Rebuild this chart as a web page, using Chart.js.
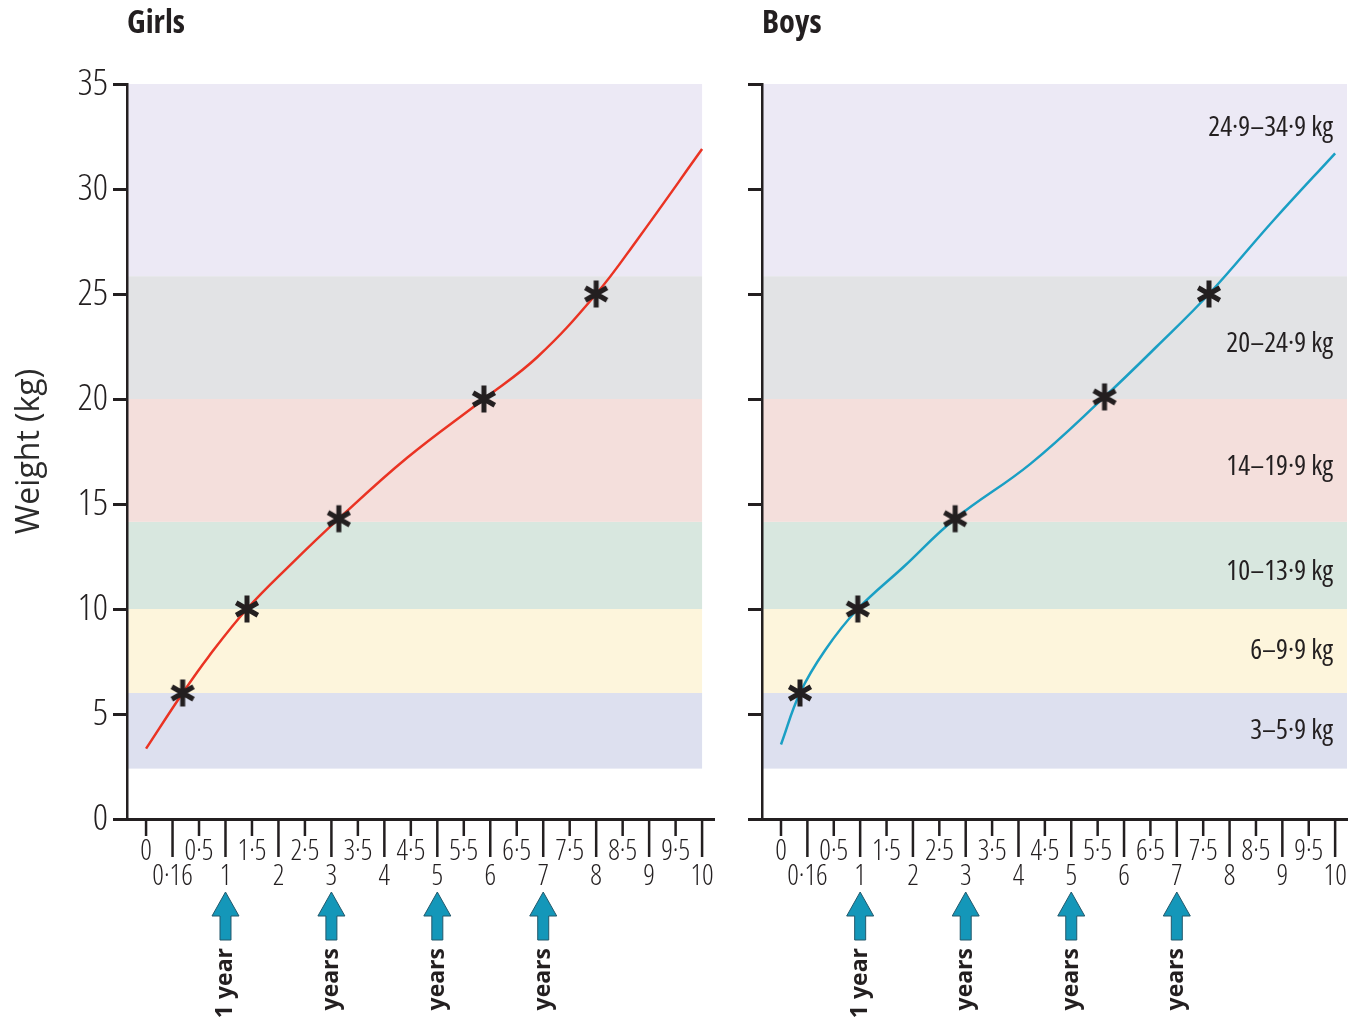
<!DOCTYPE html>
<html>
<head>
<meta charset="utf-8">
<title>Weight for age, girls and boys</title>
<script src="https://cdn.jsdelivr.net/npm/chart.js@4.4.1/dist/chart.umd.min.js"></script>
<style>
  html, body { margin: 0; padding: 0; background: #ffffff; }
  #wrap { position: relative; width: 1350px; height: 1017px; overflow: hidden; }
  canvas { position: absolute; top: 0; }
  #girls { left: 0; z-index: 1; }
  #boys { left: 725px; z-index: 2; }
</style>
</head>
<body>
<div id="wrap">
  <canvas id="girls"></canvas>
  <canvas id="boys"></canvas>
</div>
<script>
// Age axis: ticks are spaced evenly, not in proportion to age
const tickAges = [0, 0.16, 0.5, 1, 1.5, 2, 2.5, 3, 3.5, 4, 4.5, 5, 5.5, 6, 6.5, 7, 7.5, 8, 8.5, 9, 9.5, 10];
const tickLabels = ['0', '0·16', '0·5', '1', '1·5', '2', '2·5', '3', '3·5', '4', '4·5', '5', '5·5', '6', '6·5', '7', '7·5', '8', '8·5', '9', '9·5', '10'];

// Median weight curves (age in years, weight in kg)
const girlsAge    = [0, 0.29, 0.68, 1.405, 2.225, 3.14, 4.43, 5.88, 6.89, 8.0, 8.78, 10];
const girlsWeight = [3.35, 6.0, 7.73, 10.0, 12.1, 14.3, 17.2, 20.0, 22.0, 25.0, 27.6, 31.9];
const boysAge     = [0, 0.115, 0.39, 0.955, 1.82, 2.8, 4.22, 5.63, 6.62, 7.61, 8.83, 10];
const boysWeight  = [3.55, 6.0, 8.05, 10.0, 12.0, 14.3, 16.9, 20.1, 22.5, 25.0, 28.5, 31.7];

// Starred points on each curve
const girlsMarkAge    = [0.29, 1.405, 3.14, 5.88, 8.0];
const girlsMarkWeight = [6.0, 10.0, 14.3, 20.0, 25.0];
const boysMarkAge     = [0.115, 0.955, 2.8, 5.63, 7.61];
const boysMarkWeight  = [6.0, 10.0, 14.3, 20.1, 25.0];

// Weight bands (kg)
const bandLow    = [2.4, 6, 10, 14.15, 20, 25.85];
const bandHigh   = [6, 10, 14.15, 20, 25.85, 35];
const bandColors = ['#dde0ef', '#fdf5dc', '#d8e7df', '#f4dfdc', '#e2e3e5', '#ece9f5'];
const bandLabels = ['3–5·9 kg', '6–9·9 kg', '10–13·9 kg', '14–19·9 kg', '20–24·9 kg', '24·9–34·9 kg'];
const bandLabelAt = [4.2, 8.0, 11.75, 16.75, 22.6, 32.9];

// Ages flagged with arrows under the axis
const arrowAges   = [1, 3, 5, 7];
const arrowLabels = ['1 year', '3 years', '5 years', '7 years'];

const INK = '#231f20';

// pick the narrowest condensed sans face that is actually installed
function pickNarrowFont() {
  const g = document.createElement('canvas').getContext('2d');
  const sample = '0123456789';
  const w = f => { g.font = f; return g.measureText(sample).width; };
  const mono = w('100px monospace');
  const serif = w('100px serif');
  const candidates = [
    { family: '"Liberation Sans Narrow"', stretch: '' },
    { family: '"Roboto Condensed"', stretch: '' },
    { family: '"Noto Sans"', stretch: 'condensed' },
    { family: '"Open Sans"', stretch: 'condensed' },
    { family: 'Roboto', stretch: 'condensed' },
    { family: '"DejaVu Sans Condensed"', stretch: '' },
    { family: '"DejaVu Sans"', stretch: 'semi-condensed' }
  ];
  let best = { family: '"DejaVu Sans Condensed"', stretch: '', width: 1e9 };
  candidates.forEach(c => {
    const plain = w('100px ' + c.family + ', monospace');
    const installed = Math.abs(plain - mono) > 0.5 && Math.abs(w('100px ' + c.family + ', serif') - serif) > 0.5;
    if (!installed) return;
    let width = plain;
    if (c.stretch) {
      const narrow = w(c.stretch + ' 100px ' + c.family + ', monospace');
      if (!(narrow < plain * 0.97)) return;
      width = narrow;
    }
    if (width < best.width) best = { family: c.family, stretch: c.stretch, width };
  });
  return best;
}
const NARROW = pickNarrowFont();
const NARROW_FAMILY = NARROW.family + ', sans-serif';
// digit advance relative to font size
const DIGIT = NARROW.width < 1e8 ? NARROW.width / 1000 : 0.57;

function weightWith(w) {
  return [w, NARROW.stretch].filter(Boolean).join(' ') || 'normal';
}
// size that balances glyph height against the narrow digit width of the lettering
function fitSize(capHeight, digitAdvance) {
  const byHeight = capHeight / 0.72;
  const byWidth = digitAdvance / DIGIT;
  return Math.round(Math.sqrt(byHeight * byWidth) * 2) / 2;
}
const Y_TICK_SIZE = fitSize(28, 15.5);
const X_TICK_SIZE = fitSize(20, 12.5);
const BAND_SIZE = fitSize(20, 12);
const TITLE_SIZE = fitSize(23, 14);

// map an age onto the evenly spaced tick index axis
function posOf(age) {
  for (let i = 0; i < tickAges.length - 1; i++) {
    if (age <= tickAges[i + 1]) {
      return i + (age - tickAges[i]) / (tickAges[i + 1] - tickAges[i]);
    }
  }
  return tickAges.length - 1;
}

function toPoints(ages, weights) {
  return ages.map((a, i) => ({ x: posOf(a), y: weights[i] }));
}

// six-armed asterisk used as the point marker
function makeAsterisk() {
  const c = document.createElement('canvas');
  c.width = 30; c.height = 32;
  const g = c.getContext('2d');
  g.translate(15, 16);
  g.strokeStyle = INK;
  g.lineWidth = 5;
  g.beginPath();
  g.moveTo(0, -13.5); g.lineTo(0, 13.5);
  const r = 12.5, cx = r * Math.cos(Math.PI / 6), cy = r * Math.sin(Math.PI / 6);
  g.moveTo(-cx, -cy); g.lineTo(cx, cy);
  g.moveTo(-cx, cy); g.lineTo(cx, -cy);
  g.stroke();
  return c;
}
const asterisk = makeAsterisk();

const bandsPlugin = {
  id: 'bands',
  beforeDraw(chart, args, opts) {
    const { ctx, chartArea, scales: { x, y } } = chart;
    const right = opts.toLastTick ? x.getPixelForValue(tickAges.length - 1) : chartArea.right;
    ctx.save();
    bandLow.forEach((lo, i) => {
      const top = y.getPixelForValue(bandHigh[i]);
      const bot = y.getPixelForValue(lo);
      ctx.fillStyle = bandColors[i];
      ctx.fillRect(chartArea.left, top, right - chartArea.left, bot - top);
    });
    if (opts.labels) {
      ctx.fillStyle = INK;
      ctx.font = weightWith('') + ' ' + BAND_SIZE + 'px ' + NARROW_FAMILY;
      ctx.textAlign = 'right';
      ctx.textBaseline = 'middle';
      bandLabels.forEach((t, i) => {
        ctx.fillText(t, chartArea.right - 14, y.getPixelForValue(bandLabelAt[i]));
      });
    }
    ctx.restore();
  }
};

// alternating short and long tick marks on the age axis
const ageTicksPlugin = {
  id: 'ageTicks',
  afterDraw(chart) {
    const { ctx, chartArea, scales: { x } } = chart;
    ctx.save();
    ctx.strokeStyle = INK;
    ctx.lineWidth = 2.5;
    ctx.beginPath();
    x.ticks.forEach((t, i) => {
      const px = x.getPixelForTick(i);
      ctx.moveTo(px, chartArea.bottom);
      ctx.lineTo(px, chartArea.bottom + (i % 2 ? 38 : 17));
    });
    ctx.stroke();
    ctx.restore();
  }
};

// arrows and rotated captions below the age axis
const arrowsPlugin = {
  id: 'arrows',
  afterDraw(chart) {
    const { ctx, chartArea, scales: { x } } = chart;
    const b = chartArea.bottom;
    ctx.save();
    arrowAges.forEach((age, i) => {
      const px = x.getPixelForValue(posOf(age));
      const tip = b + 73, neck = b + 97, foot = b + 121;
      ctx.beginPath();
      ctx.moveTo(px, tip);
      ctx.lineTo(px + 13.5, neck);
      ctx.lineTo(px + 5.5, neck);
      ctx.lineTo(px + 5.5, foot);
      ctx.lineTo(px - 5.5, foot);
      ctx.lineTo(px - 5.5, neck);
      ctx.lineTo(px - 13.5, neck);
      ctx.closePath();
      ctx.fillStyle = '#1497b9';
      ctx.fill();
      ctx.lineWidth = 1;
      ctx.strokeStyle = '#23586b';
      ctx.stroke();

      ctx.save();
      ctx.translate(px, b + 129);
      ctx.rotate(-Math.PI / 2);
      ctx.fillStyle = INK;
      ctx.font = 'bold 23px "Open Sans", "DejaVu Sans", sans-serif';
      ctx.textAlign = 'right';
      ctx.textBaseline = 'middle';
      ctx.fillText(arrowLabels[i], 0, 0);
      ctx.restore();
    });
    ctx.restore();
  }
};

const SPARE = 40; // extra canvas width kept as right padding

function buildChart(id, opts) {
  const canvas = document.getElementById(id);
  canvas.width = opts.areaRight + SPARE;
  canvas.height = 1017;
  return new Chart(canvas, {
    type: 'line',
    data: {
      datasets: [
        {
          data: toPoints(opts.markAge, opts.markWeight),
          showLine: false,
          pointStyle: asterisk,
          pointRadius: 10,
          order: 0
        },
        {
          data: toPoints(opts.age, opts.weight),
          borderColor: opts.color,
          borderWidth: 2.5,
          pointRadius: 0,
          tension: 0.4,
          fill: false,
          order: 1
        }
      ]
    },
    options: {
      responsive: false,
      animation: false,
      devicePixelRatio: 1,
      layout: { padding: { left: 0, right: SPARE, top: 0, bottom: 0 } },
      plugins: {
        legend: { display: false },
        tooltip: { enabled: false },
        title: {
          display: true,
          text: opts.title,
          align: 'start',
          fullSize: false,
          color: INK,
          font: { family: NARROW_FAMILY, size: TITLE_SIZE, weight: weightWith('bold'), lineHeight: 1.2 },
          padding: { top: 24 - TITLE_SIZE * 0.6, bottom: 84 - 24 - TITLE_SIZE * 0.6 }
        },
        bands: { toLastTick: opts.bandsToLastTick, labels: opts.bandLabels }
      },
      scales: {
        x: {
          type: 'linear',
          min: -0.72,
          max: 21.45,
          afterBuildTicks: s => { s.ticks = tickAges.map((a, i) => ({ value: i })); },
          afterFit: s => { s.height = 198; s.paddingLeft = 0; s.paddingRight = 0; },
          grid: { display: false, drawTicks: false },
          border: { display: true, color: INK, width: 3 },
          ticks: {
            autoSkip: false,
            maxRotation: 0,
            minRotation: 0,
            padding: 20,
            color: INK,
            font: { family: NARROW_FAMILY, size: X_TICK_SIZE, weight: weightWith('300'), lineHeight: 25 / X_TICK_SIZE },
            callback: (v, i) => (i % 2 ? ['', tickLabels[i]] : [tickLabels[i], ''])
          }
        },
        y: {
          min: 0,
          max: 35,
          afterFit: s => { s.width = opts.yWidth; s.paddingTop = 0; s.paddingBottom = 0; },
          grid: { drawOnChartArea: false, drawTicks: true, tickLength: 14, tickWidth: 3, tickColor: INK },
          border: { display: true, color: INK, width: 2.5 },
          ticks: {
            stepSize: 5,
            padding: 5,
            color: INK,
            font: { family: NARROW_FAMILY, size: Y_TICK_SIZE, weight: weightWith('300') },
            callback: v => (opts.yLabels ? String(v) : '')
          },
          title: {
            display: opts.yTitle,
            text: 'Weight (kg)',
            color: '#2b2b2b',
            font: { family: '"Open Sans", sans-serif', size: 32 },
            padding: { top: 11, bottom: 0 }
          }
        }
      }
    },
    plugins: [bandsPlugin, ageTicksPlugin, arrowsPlugin]
  });
}

buildChart('girls', {
  title: 'Girls', color: '#ea3323',
  age: girlsAge, weight: girlsWeight, markAge: girlsMarkAge, markWeight: girlsMarkWeight,
  areaRight: 714, yWidth: 127, yLabels: true, yTitle: true,
  bandsToLastTick: true, bandLabels: false
});

buildChart('boys', {
  title: 'Boys', color: '#1a9fc4',
  age: boysAge, weight: boysWeight, markAge: boysMarkAge, markWeight: boysMarkWeight,
  areaRight: 622, yWidth: 37, yLabels: false, yTitle: false,
  bandsToLastTick: false, bandLabels: true
});
</script>
</body>
</html>
